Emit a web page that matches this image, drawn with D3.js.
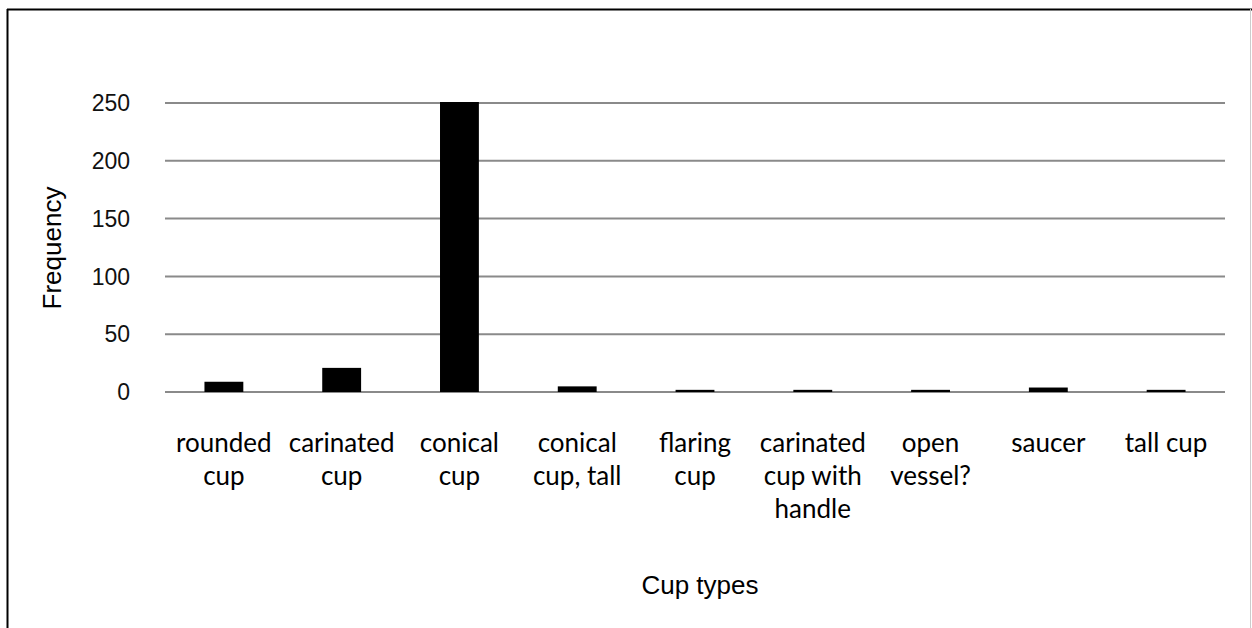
<!DOCTYPE html>
<html><head><meta charset="utf-8">
<script src="https://cdn.jsdelivr.net/npm/d3@7"></script>
<style>
html,body{margin:0;padding:0;background:#fff;}
svg{display:block;}
</style></head>
<body>
<svg id="chart" width="1252" height="628"></svg>
<script>
const categories = [["rounded","cup"],["carinated","cup"],["conical","cup"],["conical","cup, tall"],["flaring","cup"],["carinated","cup with","handle"],["open","vessel?"],["saucer"],["tall cup"]];
const values = [8, 20, 250, 4, 1, 1, 1, 3, 1];
const yTicks = [0, 50, 100, 150, 200, 250];

const svg = d3.select("#chart");
const W = 1252, H = 628;
const m = {left:165, right:27};

// frame
svg.append("line").attr("x1",7.5).attr("x2",7.5).attr("y1",9).attr("y2",H).attr("stroke","#000").attr("stroke-width",2);
svg.append("line").attr("x1",7).attr("x2",W).attr("y1",9.5).attr("y2",9.5).attr("stroke","#000").attr("stroke-width",2);
svg.append("line").attr("x1",W-1.5).attr("x2",W-1.5).attr("y1",9).attr("y2",H).attr("stroke","#ccc").attr("stroke-width",1);

const x = d3.scaleBand().domain(d3.range(categories.length)).range([m.left, W-m.right]).paddingInner(0.67).paddingOuter(0.335);
const y = d3.scaleLinear().domain([0,250]).range([392, 103]);

// grid
svg.append("g").selectAll("line").data(yTicks).join("line")
  .attr("x1", m.left).attr("x2", W-m.right)
  .attr("y1", d=>y(d)).attr("y2", d=>y(d))
  .attr("stroke","#8a8a8a").attr("stroke-width",2);

// y tick labels
svg.append("g").selectAll("text").data(yTicks).join("text")
  .attr("x", 130).attr("y", d=>y(d)).attr("dy","0.36em")
  .attr("text-anchor","end").attr("font-family","Liberation Sans, Arial, sans-serif")
  .attr("font-size",23).attr("fill","#111").text(d=>d);

// bars
svg.append("g").selectAll("rect").data(values).join("rect")
  .attr("x",(d,i)=>x(i)).attr("width",x.bandwidth())
  .attr("y",d=>y(d)-1).attr("height",d=>y(0)-y(d)+1)
  .attr("fill","#000");

// category labels
const cx = d3.scaleBand().domain(d3.range(categories.length)).range([m.left, W-m.right]);
const lab = svg.append("g").selectAll("text").data(categories).join("text")
  .attr("text-anchor","middle").attr("font-family","Lato, 'Open Sans', sans-serif")
  .attr("font-size",26).attr("fill","#000");
lab.each(function(d,i){
  const t = d3.select(this);
  d.forEach((s,j)=>{
    t.append("tspan").attr("x", cx(i)+cx.bandwidth()/2).attr("y", 452 + j*33).text(s);
  });
});

// axis titles
svg.append("text").attr("x",700).attr("y",594).attr("text-anchor","middle")
  .attr("font-family","Liberation Sans, Arial, sans-serif").attr("font-size",26).attr("fill","#000").text("Cup types");
svg.append("text").attr("transform","translate(61,248) rotate(-90)").attr("text-anchor","middle")
  .attr("font-family","Liberation Sans, Arial, sans-serif").attr("font-size",26).attr("fill","#000").text("Frequency");
</script>
</body></html>
